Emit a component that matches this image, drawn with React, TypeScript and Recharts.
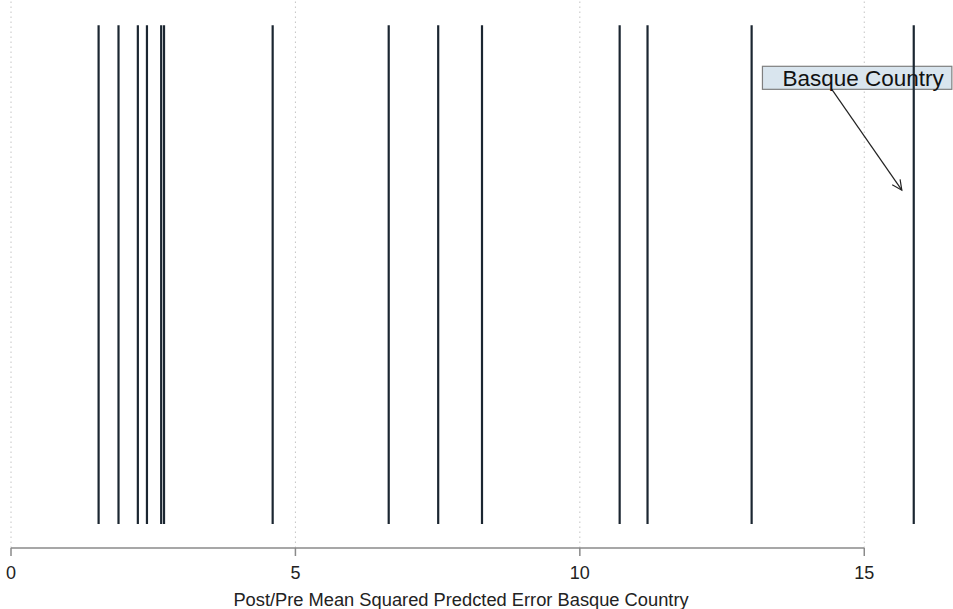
import { CSSProperties } from "react";
import {
  ComposedChart,
  XAxis,
  YAxis,
  ReferenceLine,
  ReferenceArea,
  Scatter,
} from "recharts";

// post/pre MSPE ratio for each region
const regions = [
  "r1", "r2", "r3", "r4", "r5", "r6", "r7",
  "r8", "r9", "r10", "r11", "r12", "r13", "Basque Country",
];
const ratios = [
  1.54, 1.89, 2.23, 2.39, 2.64, 2.69, 4.6,
  6.64, 7.51, 8.28, 10.7, 11.19, 13.02, 15.87,
];
const xTicks = [0, 5, 10, 15];
const xMax = 16.56;

// spike extent on the (hidden) 0..1 y scale
const spikeLow = 0.044;
const spikeHigh = 0.954;

// annotation
const labelText = "Basque Country";
const labelBox = { x1: 13.21, x2: 16.54, y1: 0.837, y2: 0.879 };
const arrowFrom = { x: 14.43, y: 0.837 };
const arrowTo = { x: 15.66, y: 0.653 };

const FONT = '"Liberation Sans", Arial, sans-serif';
const SPIKE = "#1b2631";
const AXIS = "#8a8a8a";

const data = regions.map((name, i) => ({ name, x: ratios[i], y: spikeLow }));

function Arrow(props: any) {
  const { x1, y1, x2, y2 } = props;
  const ang = Math.atan2(y2 - y1, x2 - x1);
  const len = 11;
  const spread = 0.45;
  const ax = x2 - len * Math.cos(ang - spread);
  const ay = y2 - len * Math.sin(ang - spread);
  const bx = x2 - len * Math.cos(ang + spread);
  const by = y2 - len * Math.sin(ang + spread);
  return (
    <g>
      <line x1={x1} y1={y1} x2={x2} y2={y2} stroke="#222" strokeWidth={1.2} />
      <polyline
        points={`${ax},${ay} ${x2},${y2} ${bx},${by}`}
        fill="none"
        stroke="#222"
        strokeWidth={1.2}
      />
    </g>
  );
}

// box drawn from the two diagonal corners of a segment
function Box(props: any) {
  const { x1, y1, x2, y2 } = props;
  return (
    <rect
      x={Math.min(x1, x2)}
      y={Math.min(y1, y2)}
      width={Math.abs(x2 - x1)}
      height={Math.abs(y2 - y1)}
      fill="#d9e5ee"
      stroke="#7f7f7f"
      strokeWidth={1.2}
    />
  );
}

export default function App() {
  const wrapStyle: CSSProperties = {
    position: "absolute",
    left: 0,
    top: 0,
    width: 953,
    height: 609,
    background: "#fff",
    fontFamily: FONT,
  };

  return (
    <div style={wrapStyle}>
      <ComposedChart
        width={953}
        height={609}
        data={data}
        margin={{ top: 0, right: 0, bottom: 0, left: 11 }}
      >
        <XAxis
          type="number"
          dataKey="x"
          domain={[0, xMax]}
          ticks={xTicks}
          allowDataOverflow
          height={61}
          axisLine={false}
          tickLine={{ stroke: AXIS, strokeWidth: 1.5 }}
          tickSize={8}
          tickMargin={10}
          tick={{ fill: "#222", fontSize: 18, fontFamily: FONT }}
          label={{
            value: "Post/Pre Mean Squared Predcted Error Basque Country",
            position: "insideBottom",
            offset: 3,
            dx: -21,
            fill: "#222",
            fontSize: 18.3,
            fontFamily: FONT,
          }}
        />
        <YAxis type="number" domain={[0, 1]} hide />
        {xTicks.map((t) => (
          <ReferenceLine
            key={"g" + t}
            x={t}
            stroke="#c4c4c4"
            strokeWidth={1}
            strokeDasharray="1.5 3.5"
          />
        ))}
        <ReferenceLine
          segment={[
            { x: 0, y: 0 },
            { x: 15, y: 0 },
          ]}
          stroke={AXIS}
          strokeWidth={1.5}
          ifOverflow="visible"
        />
        <ReferenceLine
          segment={[
            { x: labelBox.x1, y: labelBox.y2 },
            { x: labelBox.x2, y: labelBox.y1 },
          ]}
          shape={(p: any) => <Box {...p} />}
          ifOverflow="visible"
        />
        {ratios.map((v, i) => (
          <ReferenceLine
            key={i}
            segment={[
              { x: v, y: spikeLow },
              { x: v, y: spikeHigh },
            ]}
            stroke={SPIKE}
            strokeWidth={2.2}
          />
        ))}
        <ReferenceArea
          x1={labelBox.x1}
          x2={labelBox.x2}
          y1={labelBox.y1}
          y2={labelBox.y2}
          fill="none"
          stroke="none"
          ifOverflow="visible"
          label={{
            value: labelText,
            position: "insideLeft",
            offset: 20,
            fill: "#111",
            fontSize: 22.5,
            fontFamily: FONT,
          }}
        />
        <ReferenceLine
          segment={[arrowFrom, arrowTo]}
          shape={(p: any) => <Arrow {...p} />}
          ifOverflow="visible"
        />
        <Scatter dataKey="y" fill="none" shape={() => <g />} isAnimationActive={false} />
      </ComposedChart>
    </div>
  );
}
